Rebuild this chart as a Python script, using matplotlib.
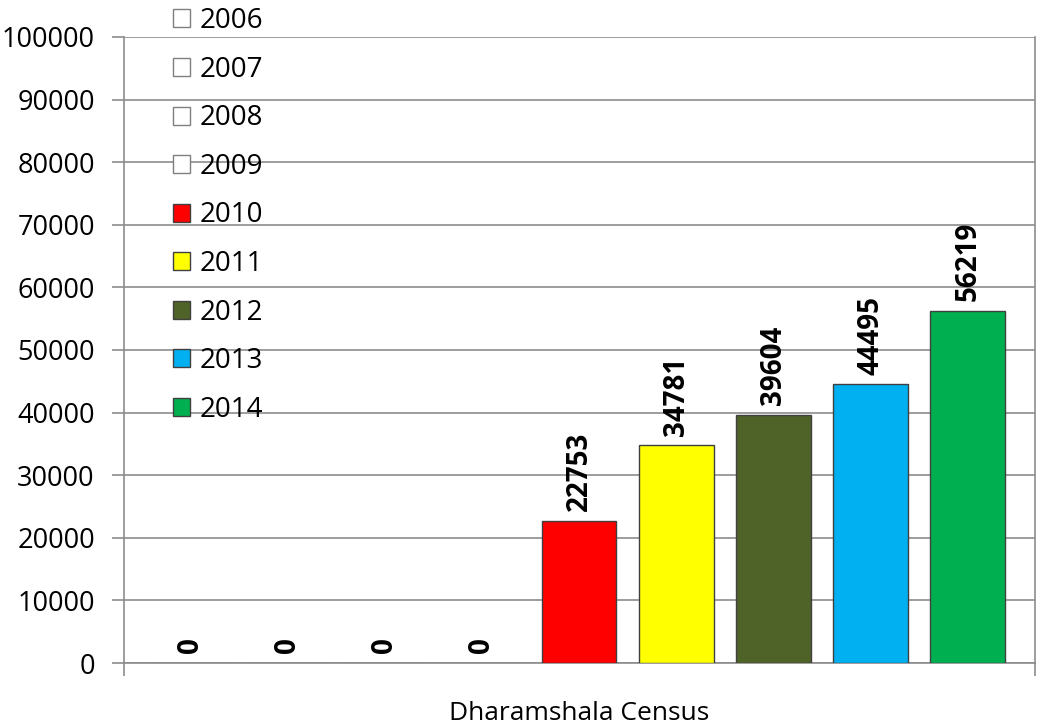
import matplotlib
matplotlib.use("Agg")
import matplotlib.pyplot as plt

years = ["2006", "2007", "2008", "2009", "2010", "2011", "2012", "2013", "2014"]
values = [0, 0, 0, 0, 22753, 34781, 39604, 44495, 56219]
colors = ["white", "white", "white", "white", "#FF0000", "#FFFF00", "#4F6228", "#00B0F0", "#00B050"]
category = "Dharamshala Census"

plt.rcParams["font.family"] = ["Open Sans", "DejaVu Sans"]

fig = plt.figure(figsize=(10.4, 7.25), dpi=100)
ax = fig.add_axes([0.1192, 0.0855, 0.8760, 0.8635])

grid_col = "#8C8C8C"
for i in range(len(years)):
	ax.bar(i, values[i], width=0.77, color=colors[i],
		edgecolor="#404040" if values[i] > 0 else "#7F7F7F", linewidth=1.0,
		label=years[i], zorder=3)
	ax.annotate(str(values[i]), (i, values[i]), xytext=(0, 7), textcoords="offset points",
		rotation=90, ha="center", va="bottom", fontsize=20, fontweight="bold", zorder=4)

ax.set_ylim(0, 100000)
ax.set_xlim(-0.68, 8.69)
ax.set_yticks(range(0, 100001, 10000))
ax.tick_params(axis="y", labelsize=19.5, length=9, color=grid_col, width=1.2, pad=12)
ax.set_xticks([-0.68, 8.69])
ax.set_xticklabels([])
ax.tick_params(axis="x", length=9, color=grid_col, width=1.2)
ax.yaxis.grid(True, color=grid_col, linewidth=1.2, zorder=0)
ax.set_axisbelow(True)
ax.spines["top"].set_visible(False)
for s in ["left", "bottom", "right"]:
	ax.spines[s].set_color(grid_col)
	ax.spines[s].set_linewidth(1.2)

ax.set_xlabel(category, fontsize=19, labelpad=15)

leg = fig.legend(loc="upper left", bbox_to_anchor=(0.166, 0.99), frameon=False,
	fontsize=20, handlelength=0.62, handleheight=0.62, handletextpad=0.35,
	labelspacing=0.74, borderpad=0, borderaxespad=0)
for h in leg.legend_handles:
	h.set_linewidth(1.0)

fig.savefig("out.png", dpi=100)
